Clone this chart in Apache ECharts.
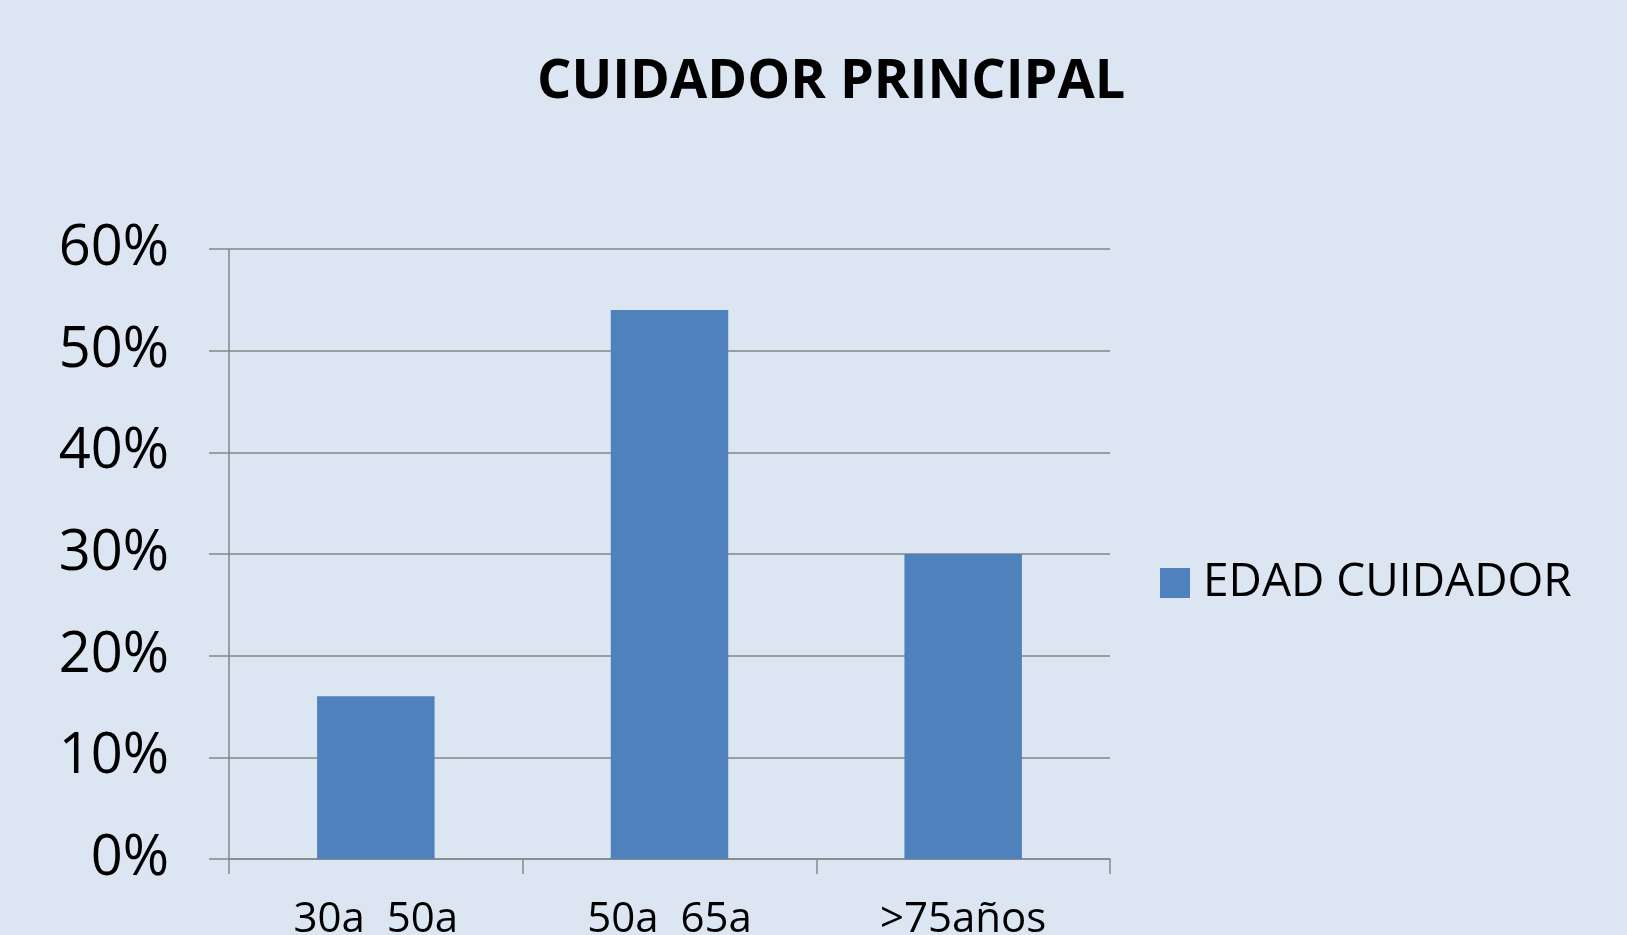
<!DOCTYPE html>
<html>
<head>
<meta charset="utf-8">
<script src="https://cdn.jsdelivr.net/npm/echarts@6/dist/echarts.min.js"></script>
<style>
html,body{margin:0;padding:0;background:#DCE6F2;}
#chart{width:1627px;height:935px;}
</style>
</head>
<body>
<div id="chart"></div>
<script>
const categories = ['30a  50a', '50a  65a', '>75años'];
const seriesName = 'EDAD CUIDADOR';
const values = [0.16, 0.54, 0.30];
const yTicks = [0, 0.1, 0.2, 0.3, 0.4, 0.5, 0.6];

const chart = echarts.init(document.getElementById('chart'));
const FONT = '"Open Sans", "Noto Sans", sans-serif';
const GRAY = '#868686';
chart.setOption({
  backgroundColor: '#DCE6F2',
  animation: false,
  title: {
    text: 'CUIDADOR PRINCIPAL',
    left: 537,
    top: 56,
    padding: 0,
    textStyle: { fontFamily: FONT, fontSize: 54, fontWeight: 'bold', color: '#000' }
  },
  legend: {
    left: 1160,
    top: 560,
    padding: 0,
    itemWidth: 30,
    itemHeight: 30,
    icon: 'rect',
    data: [seriesName],
    textStyle: { fontFamily: FONT, fontSize: 46, color: '#000', padding: [0, 0, 0, 8] }
  },
  grid: {
    left: 229, right: 517, top: 249, bottom: 76,
    containLabel: false,
    outerBoundsMode: 'none'
  },
  xAxis: {
    type: 'category',
    data: categories,
    boundaryGap: true,
    axisLine: { show: true, lineStyle: { color: GRAY, width: 1.5 } },
    axisTick: { show: true, length: 15, alignWithLabel: false, lineStyle: { color: GRAY, width: 1.5 } },
    axisLabel: { fontFamily: FONT, fontSize: 42, color: '#000', margin: 40, interval: 0 },
    splitLine: { show: false }
  },
  yAxis: {
    type: 'value',
    min: yTicks[0],
    max: yTicks[yTicks.length - 1],
    interval: 0.1,
    axisLine: { show: true, lineStyle: { color: GRAY, width: 1.5 } },
    axisTick: { show: true, length: 20, lineStyle: { color: GRAY, width: 1.5 } },
    axisLabel: {
      fontFamily: FONT, fontSize: 56, color: '#000', margin: 60,
      formatter: v => Math.round(v * 100) + '%'
    },
    splitLine: { show: true, lineStyle: { color: GRAY, width: 1.5 } }
  },
  series: [{
    name: seriesName,
    type: 'bar',
    data: values,
    barWidth: '40%',
    itemStyle: { color: '#4F81BD' }
  }]
});
</script>
</body>
</html>
